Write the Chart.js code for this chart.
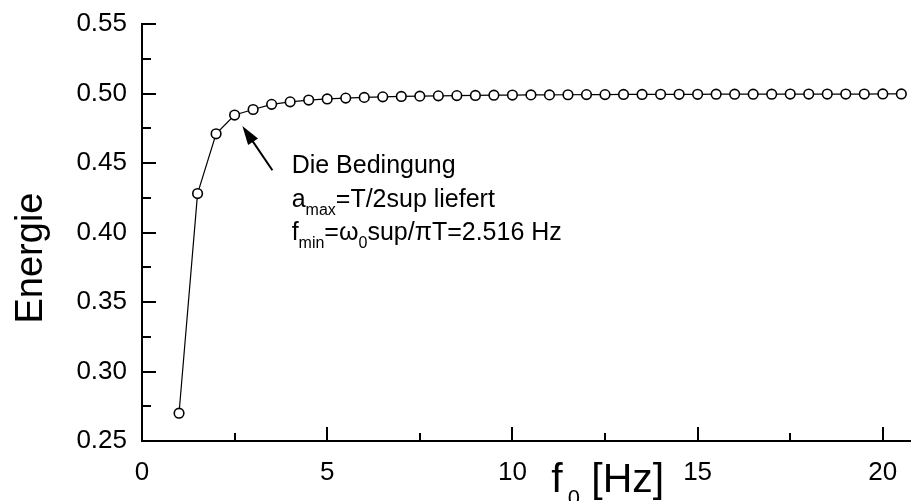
<!DOCTYPE html>
<html>
<head>
<meta charset="utf-8">
<script src="https://cdn.jsdelivr.net/npm/chart.js@4.4.1/dist/chart.umd.min.js"></script>
<style>
  html, body { margin: 0; padding: 0; background: #fff; }
  #c { display: block; }
</style>
</head>
<body>
<canvas id="c" width="917" height="501"></canvas>
<script>
//*Data
const freqs = [
  1, 1.5, 2, 2.5, 3, 3.5, 4, 4.5, 5, 5.5,
  6, 6.5, 7, 7.5, 8, 8.5, 9, 9.5, 10, 10.5,
  11, 11.5, 12, 12.5, 13, 13.5, 14, 14.5, 15, 15.5,
  16, 16.5, 17, 17.5, 18, 18.5, 19, 19.5, 20, 20.5,
]
const energie = [
  0.270, 0.428, 0.471, 0.4845, 0.4885, 0.4922, 0.4940, 0.4953, 0.4961, 0.4967,
  0.4972, 0.4976, 0.4979, 0.4981, 0.4983, 0.4985, 0.4986, 0.4988, 0.4989, 0.4990,
  0.4990, 0.4991, 0.4992, 0.4992, 0.4993, 0.4993, 0.4994, 0.4994, 0.4994, 0.4995,
  0.4995, 0.4995, 0.4995, 0.4996, 0.4996, 0.4996, 0.4996, 0.4996, 0.4997, 0.4997,
]
const xTicks = [0, 2.5, 5, 7.5, 10, 12.5, 15, 17.5, 20]
const xLabeled = [0, 5, 10, 15, 20]
const yTicks = [0.25, 0.275, 0.30, 0.325, 0.35, 0.375, 0.40, 0.425, 0.45, 0.475, 0.50, 0.525, 0.55]
const yLabeled = [0.25, 0.30, 0.35, 0.40, 0.45, 0.50, 0.55]

const FONT = '"Liberation Sans", Arial, Helvetica, sans-serif'

const isIn = (list, v) => list.some(t => Math.abs(t - v) < 1e-6)

//*Inner tick marks (ticks point into the plot)
const innerTicks = {
  id: 'innerTicks',
  afterDraw(chart) {
    const ctx = chart.ctx
    const xs = chart.scales.x
    const ys = chart.scales.y
    const area = chart.chartArea
    ctx.save()
    ctx.strokeStyle = '#000'
    ctx.lineWidth = 2
    xs.ticks.forEach(t => {
      const px = Math.round(xs.getPixelForValue(t.value))
      const len = isIn(xLabeled, t.value) ? 14 : 8
      ctx.beginPath()
      ctx.moveTo(px, area.bottom)
      ctx.lineTo(px, area.bottom - len)
      ctx.stroke()
    })
    ys.ticks.forEach(t => {
      const py = Math.round(ys.getPixelForValue(t.value))
      const len = isIn(yLabeled, t.value) ? 14 : 9
      ctx.beginPath()
      ctx.moveTo(area.left, py)
      ctx.lineTo(area.left + len, py)
      ctx.stroke()
    })
    ctx.restore()
  }
}

//? draws text pieces, some of them as subscripts
const drawRich = (ctx, parts, x, y, size, subSize, subDrop) => {
  let cx = x
  parts.forEach(p => {
    cx += p.gap || 0
    ctx.font = `${p.sub ? subSize : size}px ${FONT}`
    ctx.fillText(p.t, cx, p.sub ? y + subDrop : y)
    cx += ctx.measureText(p.t).width
  })
}

//*Axis titles and annotation
const labels = {
  id: 'labels',
  afterDraw(chart) {
    const ctx = chart.ctx
    const xs = chart.scales.x
    const ys = chart.scales.y
    ctx.save()
    ctx.fillStyle = '#000'
    ctx.textBaseline = 'alphabetic'
    ctx.textAlign = 'left'

    // y title
    ctx.save()
    ctx.translate(42, 258)
    ctx.rotate(-Math.PI / 2)
    ctx.textAlign = 'center'
    ctx.font = `38px ${FONT}`
    ctx.fillText('Energie', 0, 0)
    ctx.restore()

    // x title
    drawRich(ctx, [{ t: 'f' }, { t: '0', sub: true, gap: 5 }, { t: ' [Hz]', gap: 0 }],
      xs.getPixelForValue(11.05), 492, 41, 22, 13)

    // arrow
    const tx = xs.getPixelForValue(2.71), ty = ys.getPixelForValue(0.4766)
    const sx = xs.getPixelForValue(3.52), sy = ys.getPixelForValue(0.4448)
    const ang = Math.atan2(ty - sy, tx - sx)
    const hl = 19, hw = 6
    ctx.strokeStyle = '#000'
    ctx.lineWidth = 2
    ctx.beginPath()
    ctx.moveTo(sx, sy)
    ctx.lineTo(tx - Math.cos(ang) * hl * 0.8, ty - Math.sin(ang) * hl * 0.8)
    ctx.stroke()
    ctx.beginPath()
    ctx.moveTo(tx, ty)
    ctx.lineTo(tx - Math.cos(ang) * hl + Math.sin(ang) * hw, ty - Math.sin(ang) * hl - Math.cos(ang) * hw)
    ctx.lineTo(tx - Math.cos(ang) * hl - Math.sin(ang) * hw, ty - Math.sin(ang) * hl + Math.cos(ang) * hw)
    ctx.closePath()
    ctx.fill()

    // annotation text
    const ax = xs.getPixelForValue(4.04)
    const ay = ys.getPixelForValue(0.4428)
    drawRich(ctx, [{ t: 'Die Bedingung' }], ax, ay, 25, 16, 8)
    drawRich(ctx, [{ t: 'a' }, { t: 'max', sub: true }, { t: '=T/2sup liefert' }], ax, ay + 34, 25, 16, 8)
    drawRich(ctx, [{ t: 'f' }, { t: 'min', sub: true }, { t: '=ω' }, { t: '0', sub: true }, { t: 'sup/πT=2.516 Hz' }],
      ax, ay + 67, 25, 16, 8)
    ctx.restore()
  }
}

//*Chart
const ctx = document.getElementById('c').getContext('2d')
const chart = new Chart(ctx, {
  type: 'line',
  data: {
    datasets: [{
      data: freqs.map((f, i) => ({ x: f, y: energie[i] })),
      borderColor: '#000',
      borderWidth: 1.2,
      pointRadius: 4.8,
      pointBorderWidth: 1.6,
      pointBackgroundColor: '#fff',
      pointBorderColor: '#000',
      tension: 0,
      clip: false,
    }],
  },
  options: {
    responsive: false,
    animation: false,
    layout: { padding: { top: 24, right: 0, left: 0, bottom: 0 } },
    plugins: { legend: { display: false }, tooltip: { enabled: false } },
    scales: {
      x: {
        type: 'linear',
        min: 0,
        max: 20.75,
        afterBuildTicks: s => { s.ticks = xTicks.map(v => ({ value: v })) },
        afterFit: s => { s.height = 60; s.paddingLeft = 0; s.paddingRight = 0 },
        grid: { display: false, drawTicks: false },
        border: { display: true, color: '#000', width: 2 },
        ticks: {
          padding: 16,
          color: '#000',
          font: { family: FONT, size: 26 },
          maxRotation: 0,
          autoSkip: false,
          callback: v => isIn(xLabeled, v) ? String(v) : '',
        },
      },
      y: {
        min: 0.25,
        max: 0.55,
        afterBuildTicks: s => { s.ticks = yTicks.map(v => ({ value: v })) },
        afterFit: s => { s.width = 142; s.paddingTop = 0; s.paddingBottom = 0 },
        grid: { display: false, drawTicks: false },
        border: { display: true, color: '#000', width: 2 },
        ticks: {
          padding: 15,
          color: '#000',
          font: { family: FONT, size: 26 },
          autoSkip: false,
          callback: v => isIn(yLabeled, v) ? v.toFixed(2) : '',
        },
      },
    },
  },
  plugins: [innerTicks, labels],
})
</script>
</body>
</html>
